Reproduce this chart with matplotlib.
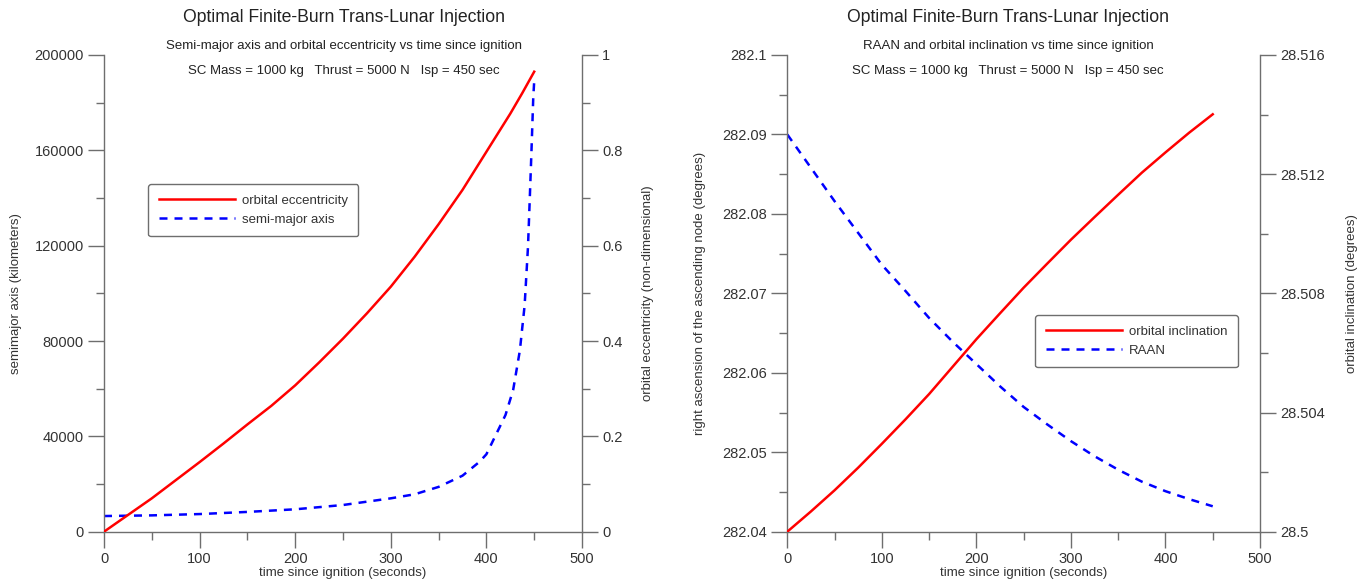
import numpy as np
import matplotlib
matplotlib.use('Agg')
from matplotlib import pyplot as plt
from matplotlib.ticker import MultipleLocator, FormatStrFormatter

plt.rcParams['font.family'] = ['Liberation Sans', 'DejaVu Sans']

# left panel data
t_ecc = [0, 25, 50, 75, 100, 125, 150, 175, 200, 225, 250, 275, 300, 325, 350, 375, 400,
         410, 425, 437.5, 450]
ecc = [0, 0.035, 0.070, 0.108, 0.146, 0.185, 0.225, 0.264, 0.307, 0.355, 0.405, 0.458, 0.514,
       0.577, 0.645, 0.717, 0.797, 0.829, 0.877, 0.920, 0.965]

t_sma = [0, 50, 100, 150, 200, 250, 300, 325, 350, 375, 393, 400, 414, 420, 428, 435, 440,
         443.5, 445.3, 447, 448, 449, 450]
sma = [6570, 6850, 7400, 8300, 9400, 11200, 14000, 15700, 18800, 23500, 29400, 32500, 44000,
       49000, 59500, 76000, 95000, 119500, 139000, 158000, 170000, 182000, 189000]

# right panel data
t_r = [0, 25, 50, 75, 100, 125, 150, 175, 200, 225, 250, 275, 300, 325, 350, 375, 400, 425, 450]
incl = [28.5, 28.50068, 28.50139, 28.50215, 28.50295, 28.50377, 28.50462, 28.50554, 28.50646,
        28.50733, 28.50819, 28.50900, 28.50980, 28.51056, 28.51131, 28.51205, 28.51273,
        28.51339, 28.51401]
raan = [282.0900, 282.0858, 282.0816, 282.0776, 282.0736, 282.0703, 282.0669, 282.0639,
        282.0611, 282.0583, 282.0557, 282.0535, 282.0514, 282.0495, 282.0478, 282.0463,
        282.0451, 282.0441, 282.0432]

title = 'Optimal Finite-Burn Trans-Lunar Injection'
params = 'SC Mass = 1000 kg   Thrust = 5000 N   Isp = 450 sec'

W, H = 1360, 588
fig = plt.figure(figsize=(W / 100, H / 100), dpi=100)

gray = '#6e6e6e'
txt = '#333333'


def style(ax, side):
    for s in ['top', 'left', 'right', 'bottom']:
        ax.spines[s].set_visible(False)
    ax.spines['bottom'].set_visible(True)
    ax.spines[side].set_visible(True)
    for s in ax.spines.values():
        s.set_color(gray)
        s.set_linewidth(1.0)
    ax.tick_params(which='major', length=11.5, width=1.0, color=gray, labelcolor=txt,
                   labelsize=10.5, pad=3)
    ax.tick_params(which='minor', length=5.8, width=1.0, color=gray)


def panel(x0, x1):
    ax = fig.add_axes([x0 / W, 1 - 531.7 / H, (x1 - x0) / W, 476.7 / H])
    ax2 = ax.twinx()
    style(ax, 'left')
    style(ax2, 'right')
    ax2.spines['bottom'].set_visible(False)
    ax.set_xlim(0, 500)
    ax.xaxis.set_major_locator(MultipleLocator(100))
    ax.xaxis.set_minor_locator(MultipleLocator(50))
    ax.set_xlabel('time since ignition (seconds)', fontsize=9.5, color=txt, labelpad=1)
    return ax, ax2


def legend(ax, handles, x, y):
    leg = ax.legend(handles, [h.get_label() for h in handles], loc='upper left',
                    bbox_to_anchor=(x / W, 1 - y / H), bbox_transform=fig.transFigure,
                    borderaxespad=0, fontsize=9.5, handlelength=5.8, handletextpad=0.5,
                    labelspacing=0.5, fancybox=True, framealpha=1, edgecolor=gray,
                    labelcolor=txt, borderpad=0.8)
    leg.get_frame().set_linewidth(1.0)


# ---- left
ax, ax2 = panel(104, 582)
l2, = ax.plot(t_sma, sma, color='blue', lw=1.8, dashes=(3.2, 2.8), label='semi-major axis')
l1, = ax2.plot(t_ecc, ecc, color='red', lw=1.8, label='orbital eccentricity')
ax.set_ylim(0, 200000)
ax.yaxis.set_major_locator(MultipleLocator(40000))
ax.yaxis.set_minor_locator(MultipleLocator(20000))
ax2.set_ylim(0, 1)
ax2.yaxis.set_major_locator(MultipleLocator(0.2))
ax2.yaxis.set_minor_locator(MultipleLocator(0.1))
ax2.yaxis.set_major_formatter(FormatStrFormatter('%g'))
ax.set_ylabel('semimajor axis (kilometers)', fontsize=9.5, color=txt)
ax2.set_ylabel('orbital eccentricity (non-dimensional)', fontsize=9.5, color=txt)
ax.yaxis.set_label_coords(-82 / 478, 0.5)
ax2.yaxis.set_label_coords(1 + 60 / 478, 0.5)
legend(ax2, [l1, l2], 148, 184)
fig.text(344 / W, 1 - 18 / H, title, ha='center', va='center', fontsize=12.7, color='#222222')
fig.text(344 / W, 1 - 46 / H, 'Semi-major axis and orbital eccentricity vs time since ignition',
         ha='center', va='center', fontsize=9.5, color='#222222')
fig.text(344 / W, 1 - 71 / H, params, ha='center', va='center', fontsize=9.5, color='#222222')

# ---- right
bx, bx2 = panel(787.3, 1260)
m2, = bx.plot(t_r, raan, color='blue', lw=1.8, dashes=(3.2, 2.8), label='RAAN')
m1, = bx2.plot(t_r, incl, color='red', lw=1.8, label='orbital inclination')
bx.set_ylim(282.04, 282.1)
bx.yaxis.set_major_locator(MultipleLocator(0.01))
bx.yaxis.set_minor_locator(MultipleLocator(0.005))
bx.yaxis.set_major_formatter(FormatStrFormatter('%g'))
bx2.set_ylim(28.5, 28.516)
bx2.yaxis.set_major_locator(MultipleLocator(0.004))
bx2.yaxis.set_minor_locator(MultipleLocator(0.002))
bx2.yaxis.set_major_formatter(FormatStrFormatter('%g'))
bx.set_ylabel('right ascension of the ascending node (degrees)', fontsize=9.5, color=txt)
bx2.set_ylabel('orbital inclination (degrees)', fontsize=9.5, color=txt)
bx.yaxis.set_label_coords(-81 / 473, 0.5)
bx2.yaxis.set_label_coords(1 + 86 / 473, 0.5)
legend(bx2, [m1, m2], 1035, 315)
fig.text(1008 / W, 1 - 18 / H, title, ha='center', va='center', fontsize=12.7, color='#222222')
fig.text(1008 / W, 1 - 46 / H, 'RAAN and orbital inclination vs time since ignition',
         ha='center', va='center', fontsize=9.5, color='#222222')
fig.text(1008 / W, 1 - 71 / H, params, ha='center', va='center', fontsize=9.5, color='#222222')

fig.savefig('out.png', dpi=100)
